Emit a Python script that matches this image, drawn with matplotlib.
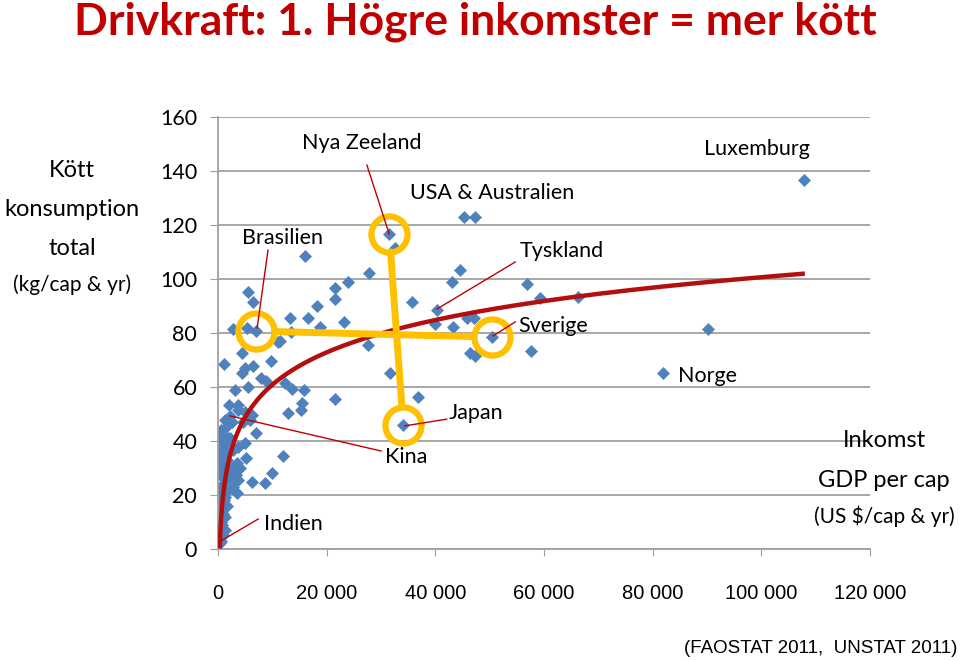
import matplotlib
matplotlib.use("Agg")
import matplotlib.pyplot as plt
import numpy as np

# ── data ──────────────────────────────────────────────────────────────────────
# high income countries
gdp_high = [107900, 90200, 81900, 45300, 47300, 44500, 43100, 56900, 59300,
            66300, 35700, 40300, 39900, 43300, 45800, 47100, 50400, 57600,
            46400, 47300]
meat_high = [136.7, 81.5, 65.2, 123.0, 123.0, 103.3, 98.9, 98.1, 93.0,
             93.3, 91.5, 88.5, 83.3, 82.2, 85.6, 85.6, 78.5, 73.3,
             72.6, 71.5]

# middle income countries
gdp_mid = [31500, 32600, 16000, 27800, 23900, 21500, 21500, 18200, 16600,
           13300, 23200, 27600, 31700, 36800, 21500, 34100, 11400, 5500,
           6400, 2800, 7000, 13400, 11000, 18800, 5300, 12300, 13600,
           15800, 15500, 15300, 12900, 12000, 9800, 8800, 7900]
meat_mid = [116.7, 111.5, 108.5, 102.2, 98.9, 96.7, 92.6, 90.0, 85.6,
            85.6, 84.1, 75.6, 65.2, 56.3, 55.6, 45.9, 77.0, 95.2,
            91.5, 81.5, 80.7, 80.4, 76.7, 82.2, 81.9, 61.5, 59.3,
            58.9, 54.1, 51.5, 50.4, 34.4, 69.6, 62.2, 63.3]

# low income countries
gdp_low = [4400, 1100, 5000, 6400, 4400, 3100, 5500, 2000, 3700, 3700,
           5000, 6300, 1300, 2200, 2600, 4600, 5900, 7000, 400, 900,
           2200, 2800, 5000, 3700, 300, 1700, 3500, 2600, 400, 2200,
           3700, 2800, 6300, 8700, 9900, 400, 1300, 3500, 300, 900,
           400, 1300, 250, 400, 3300, 5200, 4100,
           500, 800, 1200, 400, 700, 1000, 600, 1400, 900, 450, 1100,
           650, 350, 850, 550, 750, 300, 1000, 500, 1500, 1800, 1600,
           2000, 1500, 1700, 1200]
meat_low = [72.6, 68.5, 67.0, 67.8, 65.2, 58.9, 60.0, 53.3, 53.3, 51.5,
            50.7, 49.6, 47.8, 49.3, 47.0, 47.0, 47.8, 43.0, 40.4, 37.8,
            41.1, 36.7, 39.3, 37.8, 34.1, 33.0, 31.9, 30.0, 28.1, 26.7,
            25.6, 23.0, 24.8, 24.4, 28.1, 23.0, 19.3, 20.7, 15.6, 11.9,
            8.1, 7.0, 4.4, 2.2, 27.4, 33.7, 30.0,
            44, 42, 39, 36, 32, 30, 27, 25, 22, 20, 18,
            17, 14, 13, 10, 9, 6, 5, 3, 45, 41, 35,
            28, 21, 16, 12]

# logarithmic trend line y = a*ln(x) + b (Excel trendline)
TREND_A, TREND_B = 17.3, -98.5
TREND_X = [300, 108000]

# highlighted countries (yellow circles)
hl_names = ["Brasilien", "Nya Zeeland", "Sverige", "Japan"]
hl_gdp = [7000, 31500, 50400, 34100]
hl_meat = [80.7, 116.7, 78.5, 45.9]

# labels: (text, text x, text y, line start, line end)
labels = [
    ("Nya Zeeland", 26500, 150.4, (27400, 142.2), (31500, 116.7)),
    ("USA & Australien", 50400, 131.9, None, None),
    ("Brasilien", 11800, 115.2, (9200, 110.7), (7200, 81.9)),
    ("Tyskland", 63300, 110.4, (54700, 106.3), (40300, 88.9)),
    ("Sverige", 61700, 82.6, (54700, 84.1), (50600, 78.9)),
    ("Luxemburg", 99200, 148.1, None, None),
    ("Japan", 47500, 50.4, (42100, 48.1), (34400, 45.6)),
    ("Kina", 34600, 34.1, (30000, 36.3), (2200, 49.3)),
    ("Indien", 13800, 9.3, (7400, 11.1), (550, 3.0)),
]

yticks = [0, 20, 40, 60, 80, 100, 120, 140, 160]
xticks = [0, 20000, 40000, 60000, 80000, 100000, 120000]
xtick_labels = ["0", "20 000", "40 000", "60 000", "80 000", "100 000", "120 000"]

BLUE = "#4F81BD"
DARKRED = "#C00000"
TREND = "#B40F0F"
YELLOW = "#FFC000"
GRID = "#A0A0A0"
SANS = "Lato"

fig = plt.figure(figsize=(9.6, 6.6), dpi=100)
ax = fig.add_axes([0.2271, 0.1682, 0.6792, 0.6545])

gdp_all = gdp_high + gdp_mid + gdp_low
meat_all = meat_high + meat_mid + meat_low
ax.scatter(gdp_all, meat_all, marker="D", s=44, color=BLUE, linewidths=0,
           zorder=2)

tx = np.geomspace(TREND_X[0], TREND_X[1], 300)
ax.plot(tx, TREND_A * np.log(tx) + TREND_B, color=TREND, lw=3.2, zorder=3,
        solid_capstyle="butt")

# yellow cross: Brasilien - Sverige and Nya Zeeland - Japan
for a, b in [(0, 2), (1, 3)]:
    ax.annotate("", xy=(hl_gdp[b], hl_meat[b]), xytext=(hl_gdp[a], hl_meat[a]),
                arrowprops=dict(arrowstyle="-", color=YELLOW, lw=5,
                                shrinkA=13, shrinkB=13), zorder=4)
ax.plot(hl_gdp, hl_meat, "o", ms=26, mfc="none", mec=YELLOW, mew=4.5,
        zorder=4)

for txt, x, y, p0, p1 in labels:
    ax.text(x, y, txt, ha="center", va="center", fontsize=15.5, family=SANS,
            zorder=6)
    if p0 is not None:
        ax.plot([p0[0], p1[0]], [p0[1], p1[1]], color=DARKRED, lw=1.0,
                zorder=5)
ax.text(84700, 64.1, "Norge", ha="left", va="center", fontsize=15.5,
        family=SANS, zorder=6)

ax.set_xlim(0, 120000)
ax.set_ylim(0, 160)
ax.set_yticks(yticks)
ax.set_xticks(xticks)
ax.set_xticklabels(xtick_labels, family="Liberation Sans", fontsize=14.5)
ax.set_yticklabels([str(v) for v in yticks], family=SANS, fontsize=15.5)
ax.tick_params(axis="y", length=6, color=GRID, pad=9)
ax.tick_params(axis="x", length=5, color=GRID, pad=20)
ax.grid(axis="y", color=GRID, lw=1.3)
ax.set_axisbelow(True)
for s in ("top", "right"):
    ax.spines[s].set_visible(False)
for s in ("left", "bottom"):
    ax.spines[s].set_color(GRID)
    ax.spines[s].set_linewidth(1.3)

fig.text(0.495, 0.967, "Drivkraft: 1. Högre inkomster = mer kött",
         ha="center", va="center", fontsize=32, fontweight="bold",
         color=DARKRED, family=SANS)

for txt, yy, fs in [("Kött", 0.741, 17), ("konsumption", 0.682, 17),
                    ("total", 0.623, 17), ("(kg/cap & yr)", 0.568, 15)]:
    fig.text(0.075, yy, txt, ha="center", va="center", fontsize=fs,
             family=SANS)

for txt, yy, fs in [("Inkomst", 0.333, 17), ("GDP per cap", 0.2727, 17),
                    ("(US $/cap & yr)", 0.218, 15)]:
    fig.text(0.921, yy, txt, ha="center", va="center", fontsize=fs,
             family=SANS)

fig.text(0.997, 0.018, "(FAOSTAT 2011,  UNSTAT 2011)", ha="right",
         va="center", fontsize=13.5, family="Liberation Sans")

plt.savefig("out.png", dpi=100)
